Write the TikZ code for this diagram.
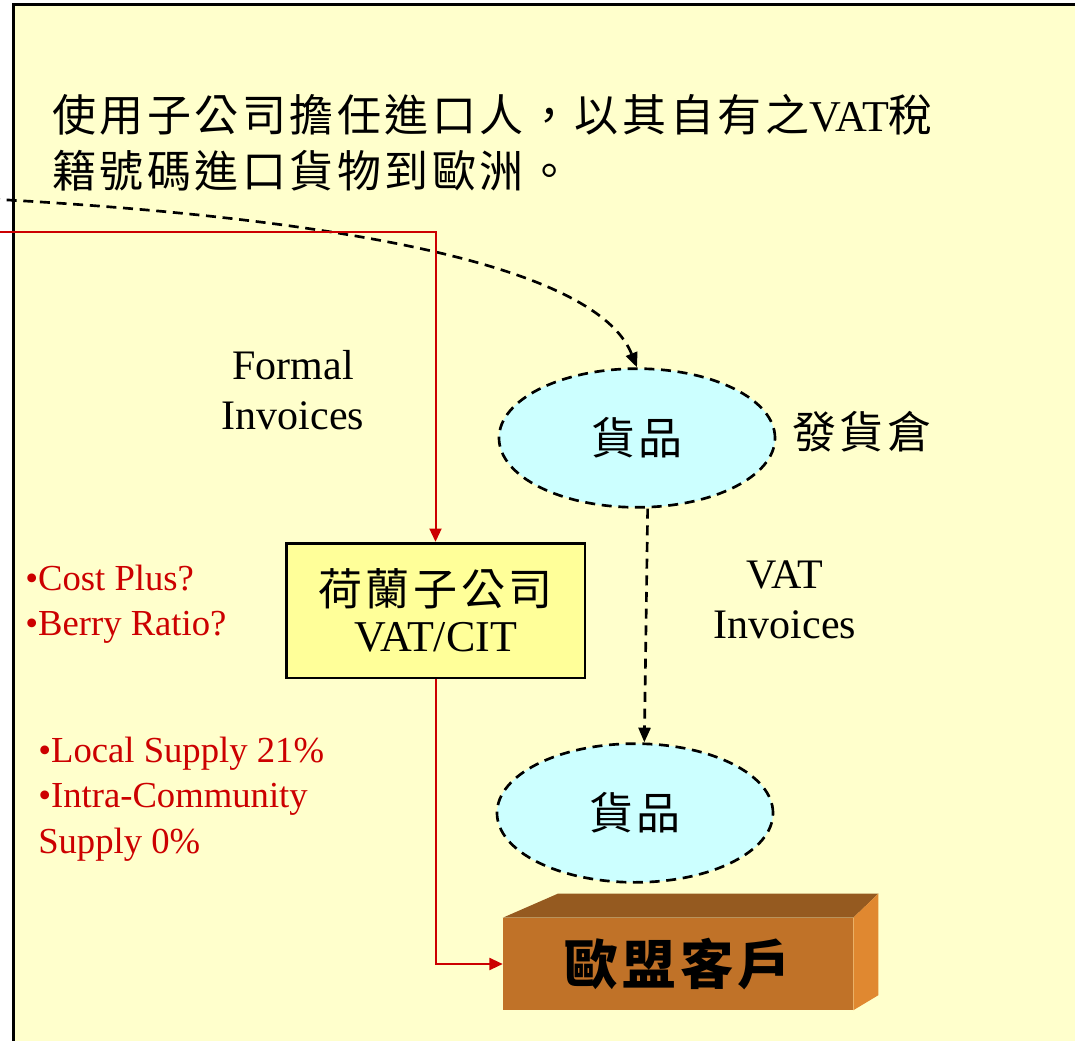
\documentclass[tikz,border=0pt]{standalone}
\usepackage{fontspec}
\setmainfont{Liberation Serif}
\newfontfamily\cjk{Noto Sans CJK TC}
\newfontfamily\cjks[LetterSpace=8]{Noto Sans CJK TC}
\usetikzlibrary{shapes.geometric,arrows.meta}
\definecolor{bgyellow}{HTML}{FFFFCC}
\definecolor{boxyellow}{HTML}{FFFF99}
\definecolor{ellcyan}{HTML}{CCFFFF}
\definecolor{darkred}{HTML}{CC0000}
\definecolor{brickfront}{HTML}{C07228}
\definecolor{bricktop}{HTML}{955A20}
\definecolor{brickside}{HTML}{E08830}
\tikzset{
  dashline/.style={line width=2pt, dash pattern=on 7.5pt off 5pt},
  blackarrow/.style={dashline, -{Triangle[length=11pt,width=9pt]}},
  redarrow/.style={draw=darkred, line width=1.5pt, -{Triangle[length=10pt,width=9pt]}, color=darkred},
  goods/.style={ellipse, draw, dashline, fill=ellcyan, minimum width=207pt, minimum height=104pt, inner sep=0pt,
     font=\cjks\fontsize{33}{40}\selectfont},
  subbox/.style={rectangle, draw, line width=2pt, fill=boxyellow, minimum width=224pt, minimum height=101pt, inner sep=0pt, align=center},
  brick/.style={rectangle, fill=brickfront, minimum width=262.5pt, minimum height=69pt, inner sep=0pt,
     font=\cjks\bfseries\fontsize{40}{48}\selectfont},
  lbl/.style={align=center, inner sep=0pt, font=\fontsize{31.5}{37.5}\selectfont},
  redlbl/.style={align=left, inner sep=0pt, text=darkred, font=\fontsize{27.5}{34}\selectfont, anchor=west},
}
\begin{document}
\begin{tikzpicture}[x=0.75pt,y=-0.75pt]
\useasboundingbox (0,0) rectangle (1075,1041);
\clip (0,0) rectangle (1075,1041);
\fill[bgyellow] (13,5) rectangle (1100,1060);
\draw[line width=2.25pt] (1100,5) -- (13,5) -- (13,1060);

% title
\node[anchor=west, align=left, inner sep=0pt, font=\fontsize{33}{42}\selectfont] (title) at (52,143)
  {{\cjks 使用子公司擔任進口人，以其自有之}VAT{\cjks 稅}\\{\cjks 籍號碼進口貨物到歐洲。}};

% nodes
\node[goods] (e1) at (637,438) {貨品};
\node[goods] (e2) at (635,813) {貨品};
\node[inner sep=0pt, font=\cjks\fontsize{33}{40}\selectfont] (wh) at (862,432) {發貨倉};
\node[subbox] (sub) at (435.5,610.5)
  {{\cjks\fontsize{33}{40}\selectfont 荷蘭子公司}\\[9pt]{\fontsize{33}{40}\selectfont VAT/CIT}};
\node[brick] (cust) at (678,964) {歐盟客戶};
\fill[bricktop] (cust.north west) -- ++(55,-24) -- ([shift={(25,-24)}]cust.north east) -- (cust.north east) -- cycle;
\fill[brickside] (cust.north east) -- ++(25,-24) -- ([shift={(25,-15)}]cust.south east) -- (cust.south east) -- cycle;

% labels
\node[lbl] (fi) at (293,390) {Formal\\Invoices};
\node[lbl] (vi) at (785,600) {VAT\\Invoices};
\node[redlbl] (tp) at (25,604) {•Cost Plus?\\•Berry Ratio?};
\node[redlbl] (vat) at (38,799) {•Local Supply 21\%\\•Intra-Community\\Supply 0\%};

% connectors
\coordinate (gsrc) at (-10,199);
\coordinate (rsrc) at (-10,232);
\draw[blackarrow] (gsrc) .. controls (250,213) and (590,250) .. (e1.north);
\draw[blackarrow] ([xshift=8pt]e1.south) -- ([xshift=7pt]e2.north);
\draw[redarrow] (rsrc) -| (sub.north);
\draw[redarrow] (sub.south) |- (cust.west);
\end{tikzpicture}
\end{document}
